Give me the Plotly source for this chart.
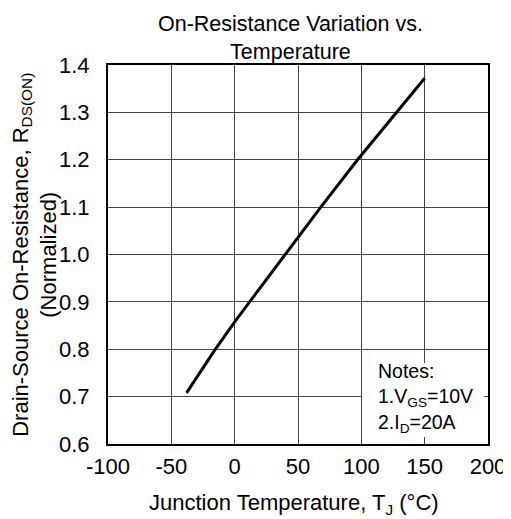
import plotly.graph_objects as go

temps = [-38, -16, 0, 11, 40, 50, 68, 97, 150]
rds_norm = [0.708, 0.797, 0.858, 0.897, 1.00, 1.037, 1.10, 1.20, 1.372]

x_ticks = [-100, -50, 0, 50, 100, 150, 200]
y_ticks = [0.6, 0.7, 0.8, 0.9, 1.0, 1.1, 1.2, 1.3, 1.4]
y_tick_labels = ["0.6", "0.7", "0.8", "0.9", "1.0", "1.1", "1.2", "1.3", "1.4"]

FONT = "Liberation Sans, Arial, sans-serif"

fig = go.Figure()
fig.add_trace(go.Scatter(x=temps, y=rds_norm, mode="lines",
                         line=dict(color="black", width=3), showlegend=False))

fig.add_shape(type="rect", xref="x", yref="y", x0=100.6, x1=196.8, y0=0.6148, y1=0.771,
              fillcolor="white", line=dict(width=0), layer="above")
fig.add_annotation(xref="x", yref="y", x=111.6, y=0.697, xanchor="left", yanchor="middle",
                   text="Notes:<br>1.V<sub>GS</sub>=10V<br>2.I<sub>D</sub>=20A",
                   align="left", showarrow=False, font=dict(size=19.5, color="black", family=FONT))

# title
fig.add_annotation(xref="paper", yref="paper", x=0.479, y=1.072, xanchor="center", yanchor="middle",
                   text="On-Resistance Variation vs.<br>Temperature", showarrow=False,
                   font=dict(size=21.5, color="black", family=FONT))
# x title
fig.add_annotation(xref="paper", yref="paper", x=0.4885, y=-0.159, xanchor="center", yanchor="middle",
                   text="Junction Temperature, T<sub>J</sub> (°C)", showarrow=False,
                   font=dict(size=22, color="black", family=FONT))
# y title
fig.add_annotation(xref="paper", yref="paper", x=-0.194, y=0.5, xanchor="center", yanchor="middle",
                   text="Drain-Source On-Resistance, R<sub>DS(ON)</sub><br>(Normalized)",
                   textangle=-90, showarrow=False,
                   font=dict(size=22, color="black", family=FONT))

fig.update_layout(
    width=503, height=511,
    margin=dict(l=100, r=23, t=57, b=75, autoexpand=False),
    paper_bgcolor="white", plot_bgcolor="white",
    font=dict(family=FONT, color="black"),
    xaxis=dict(range=[-100, 200], tickvals=x_ticks, ticktext=[str(v) for v in x_ticks],
               showgrid=True, gridcolor="#444444", gridwidth=1,
               showline=True, linecolor="black", linewidth=2, mirror=True,
               ticks="", zeroline=False, tickfont=dict(size=22), ticklabelstandoff=2),
    yaxis=dict(range=[0.6, 1.4], tickvals=y_ticks, ticktext=y_tick_labels,
               showgrid=True, gridcolor="#444444", gridwidth=1,
               showline=True, linecolor="black", linewidth=2, mirror=True,
               ticks="", zeroline=False, tickfont=dict(size=22), ticklabelstandoff=12),
)

fig.write_html("out.html")
